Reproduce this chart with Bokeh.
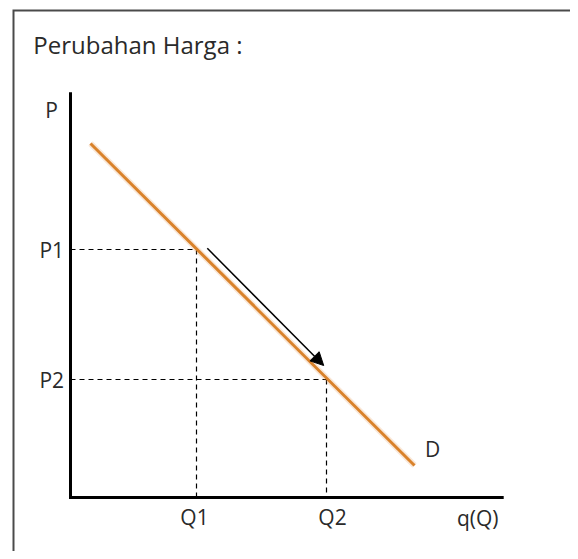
from bokeh.plotting import figure
from bokeh.models import Range1d, Arrow, NormalHead
from bokeh.core.properties import value
from bokeh.embed import file_html
from bokeh.resources import INLINE

# ---- data (economic units) ----
title_text = "Perubahan Harga :"
price_labels = ["P", "P1", "P2"]
qty_labels = ["Q1", "Q2", "q(Q)"]
curve_label = "D"

P1 = 6.2
P2 = 2.95
Q1 = 3.15
Q2 = 6.4

demand_q = [0.5, 8.6]
demand_p = [8.85, 0.8]

move_q = [3.42, 6.33]
move_p = [6.23, 3.3]

axis_q_max = 10.83
axis_p_max = 10.13

FONT = "Open Sans"

p = figure(width=570, height=551, output_backend="svg", toolbar_location=None,
           x_range=Range1d(-1.75, 12.5), y_range=Range1d(-1.35, 12.425),
           x_axis_type=None, y_axis_type=None, min_border=0,
           outline_line_color=None, background_fill_color="white",
           border_fill_color="white")
p.grid.visible = False

# frame border (left and top)
p.line([-1.425, -1.425, 12.6], [-1.4, 12.175, 12.175], line_color="#4a4a4a",
       line_width=2, line_join="miter")

# guide dashed lines
p.segment(x0=[0, Q1, 0, Q2], y0=[P1, P1, P2, P2],
          x1=[Q1, Q1, Q2, Q2], y1=[P1, 0, P2, 0],
          line_color="black", line_width=1.2, line_dash="5 4")

# demand curve
p.line(demand_q, demand_p, line_color="#E8A060", line_width=6, line_alpha=0.25)
p.line(demand_q, demand_p, line_color="#D9822B", line_width=3)

# axes
p.line([0, 0, axis_q_max], [axis_p_max, 0, 0], line_color="black",
       line_width=3, line_join="miter")

# movement arrow
p.add_layout(Arrow(end=NormalHead(size=13, fill_color="black", line_color="black"),
                   x_start=move_q[0], y_start=move_p[0],
                   x_end=move_q[1], y_end=move_p[1],
                   line_color="black", line_width=1.5))

# labels
TXT = "#2a2a2a"
p.text(x=[-0.93], y=[11.33], text=[title_text], text_font=value(FONT),
       text_font_size="24px", text_color=TXT, text_baseline="middle",
       text_align="left")
p.text(x=[-0.475], y=[9.7], text=[price_labels[0]], text_font=value(FONT),
       text_font_size="21px", text_color=TXT, text_baseline="middle",
       text_align="center")
p.text(x=[-0.16, -0.16], y=[P1, P2], text=price_labels[1:], text_font=value(FONT),
       text_font_size="21px", text_color=TXT, text_baseline="middle",
       text_align="right")
p.text(x=[Q1 - 0.05, Q2 + 0.15, axis_q_max - 0.65], y=[-0.48, -0.48, -0.5],
       text=qty_labels, text_font=value(FONT),
       text_font_size="21px", text_color=TXT, text_baseline="middle",
       text_align="center")
p.text(x=[9.05], y=[1.22], text=[curve_label], text_font=value(FONT),
       text_font_size="21px", text_color=TXT, text_baseline="middle",
       text_align="center")

open("out.html", "w").write(file_html(p, INLINE))
